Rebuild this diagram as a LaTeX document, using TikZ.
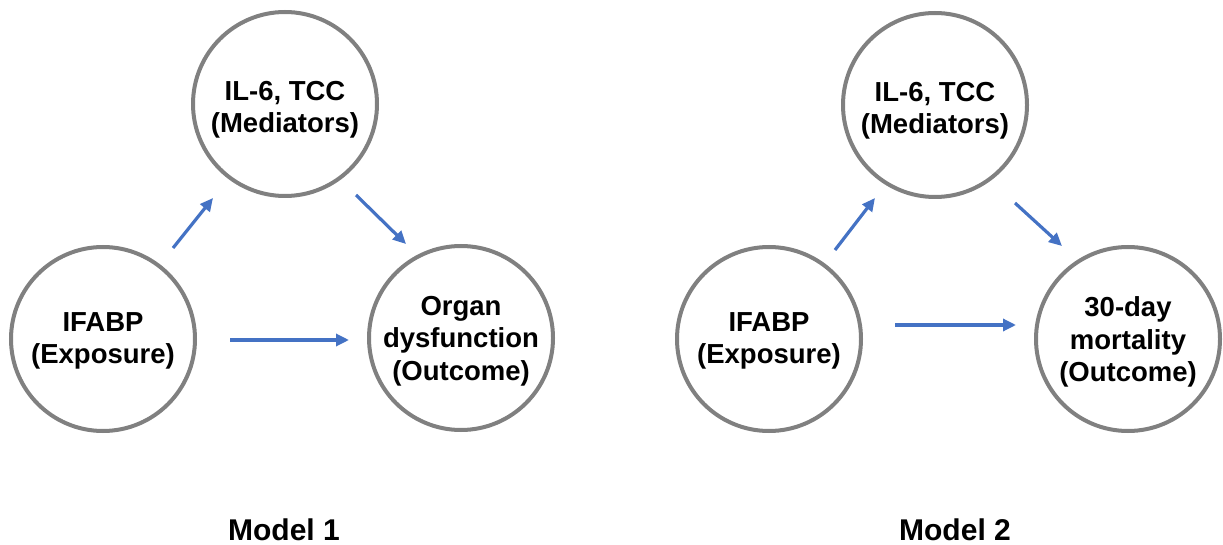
\documentclass[tikz,border=0pt]{standalone}
\usepackage{fontspec}
\setmainfont{Liberation Sans}
\usetikzlibrary{arrows.meta}
\definecolor{ringgray}{RGB}{128,128,128}
\definecolor{arrowblue}{RGB}{68,114,196}
\tikzset{
  var/.style={circle, draw=ringgray, line width=4pt, minimum size=184pt, inner sep=0pt},
  vartext/.style={align=center, inner sep=0pt, font=\bfseries\fontsize{27.5}{32.5}\selectfont},
  link/.style={draw=arrowblue, line width=3.2pt, -{Triangle[length=13pt,width=12pt]}},
  title/.style={font=\bfseries\fontsize{30}{36}\selectfont, anchor=base}
}
\begin{document}
\begin{tikzpicture}[x=1pt,y=-1pt]
\useasboundingbox (0,0) rectangle (1223,545);
% Model 1
\node[var] (m1) at (285,104) {};
\node[var] (e1) at (103,339) {};
\node[var] (o1) at (461,338) {};
\node[vartext] (m1t) at ([yshift=-6pt]m1.center) {IL-6, TCC\\(Mediators)};
\node[vartext] (e1t) at ([yshift=-2pt]e1.center) {IFABP\\(Exposure)};
\node[vartext] (o1t) at ([yshift=-3pt]o1.center) {Organ\\dysfunction\\(Outcome)};
\coordinate (a1s) at (173,248); \coordinate (a1e) at (213,198);
\coordinate (b1s) at (356,195); \coordinate (b1e) at (406,244);
\coordinate (c1s) at (230,340); \coordinate (c1e) at (349,340);
\draw[link] (a1s) -- (a1e);
\draw[link] (b1s) -- (b1e);
\draw[link] (c1s) -- (c1e);
\node[title] (t1) at (284,540) {Model 1};
% Model 2
\node[var] (m2) at (935,105) {};
\node[var] (e2) at (769,339) {};
\node[var] (o2) at (1128,339) {};
\node[vartext] (m2t) at ([yshift=-6pt]m2.center) {IL-6, TCC\\(Mediators)};
\node[vartext] (e2t) at ([yshift=-2pt]e2.center) {IFABP\\(Exposure)};
\node[vartext] (o2t) at ([yshift=-3pt]o2.center) {30-day\\mortality\\(Outcome)};
\coordinate (a2s) at (835,250); \coordinate (a2e) at (875,198);
\coordinate (b2s) at (1015,203); \coordinate (b2e) at (1062,246);
\coordinate (c2s) at (895,325); \coordinate (c2e) at (1016,325);
\draw[link] (a2s) -- (a2e);
\draw[link] (b2s) -- (b2e);
\draw[link] (c2s) -- (c2e);
\node[title] (t2) at (955,540) {Model 2};
\end{tikzpicture}
\end{document}
